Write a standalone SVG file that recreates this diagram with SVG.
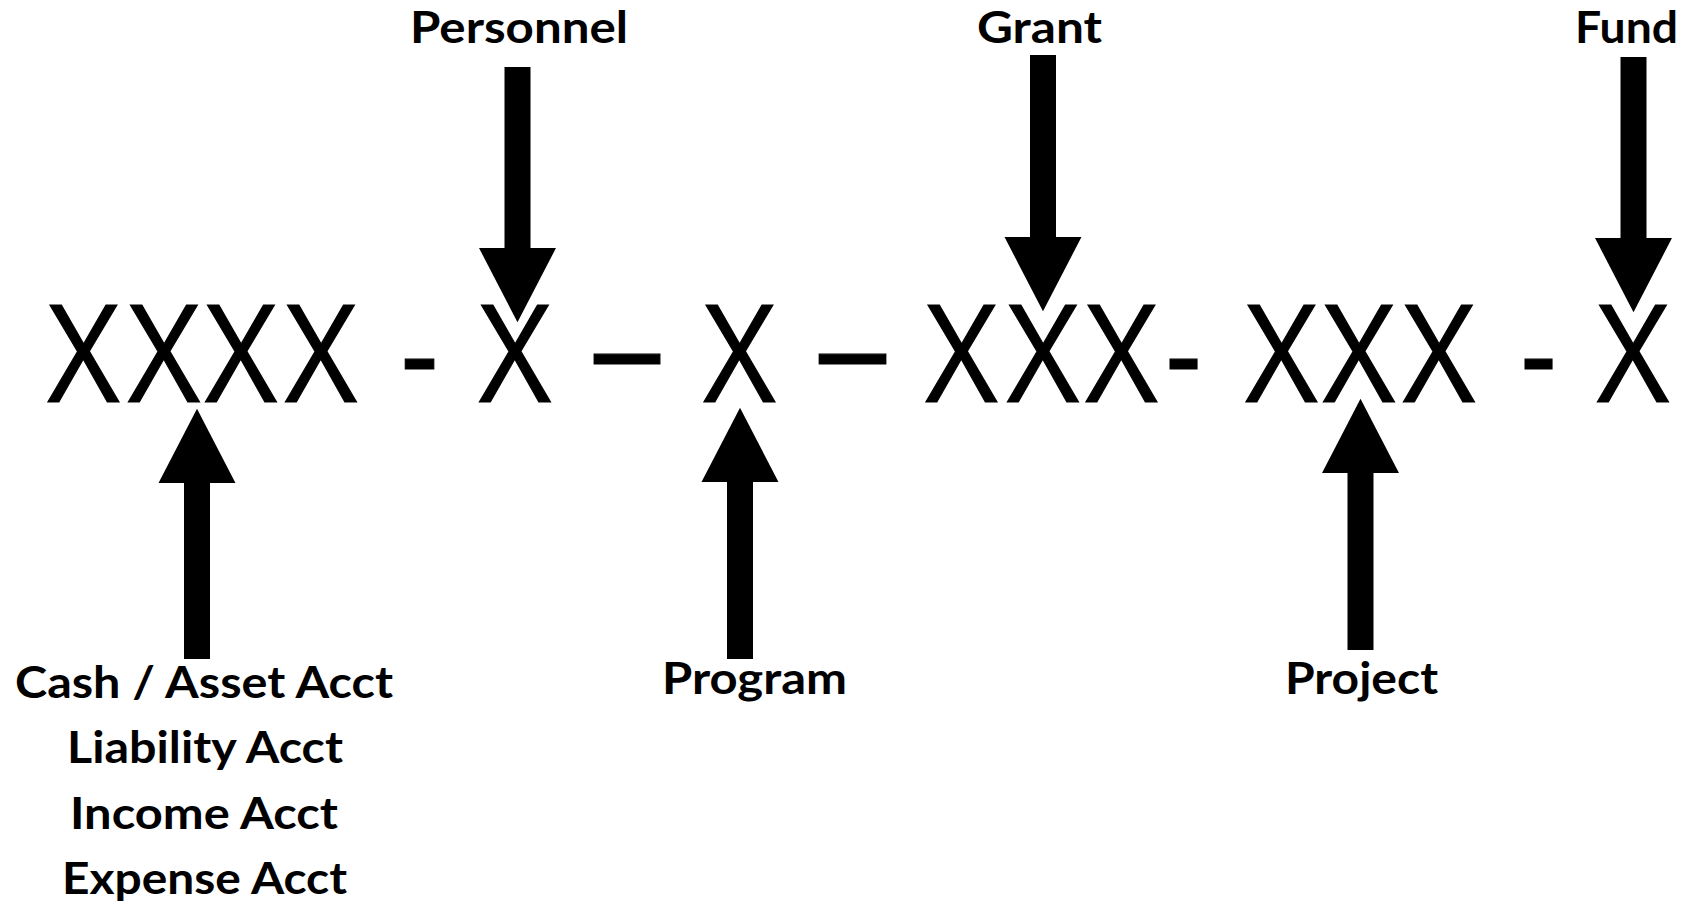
<svg xmlns="http://www.w3.org/2000/svg" width="1689" height="904" viewBox="0 0 1689 904">
  <style>
    .code { font-family: "Open Sans", "Noto Sans", sans-serif; font-size: 136px; fill: #000; stroke: #000; stroke-width: 1.2; text-anchor: middle; }
    .lbl { font-family: Lato, "Open Sans", sans-serif; font-weight: bold; font-size: 44px; fill: #000; text-anchor: middle; }
    .shaft { stroke: #000; stroke-width: 26; fill: none; marker-end: url(#head); }
  </style>
  <defs>
    <marker id="head" markerUnits="strokeWidth" markerWidth="2.9" markerHeight="3" refX="0" refY="1.48" orient="auto" overflow="visible">
      <path d="M0,0 L2.86,1.48 L0,2.96 Z" fill="#000" stroke="none"/>
    </marker>
  </defs>
  <rect width="1689" height="904" fill="#fff"/>

  <!-- account code string -->
  <g id="code">
    <text class="code" x="83.5" y="402" textLength="72" lengthAdjust="spacingAndGlyphs">X</text>
    <text class="code" x="164" y="402" textLength="72" lengthAdjust="spacingAndGlyphs">X</text>
    <text class="code" x="241" y="402" textLength="72" lengthAdjust="spacingAndGlyphs">X</text>
    <text class="code" x="321" y="402" textLength="72" lengthAdjust="spacingAndGlyphs">X</text>
    <text class="code" x="419.5" y="401" textLength="38" lengthAdjust="spacingAndGlyphs">-</text>
    <text class="code" x="515" y="402" textLength="72" lengthAdjust="spacingAndGlyphs">X</text>
    <text class="code" x="627" y="396" textLength="78" lengthAdjust="spacingAndGlyphs">–</text>
    <text class="code" x="739.5" y="402" textLength="72" lengthAdjust="spacingAndGlyphs">X</text>
    <text class="code" x="852.5" y="396" textLength="79" lengthAdjust="spacingAndGlyphs">–</text>
    <text class="code" x="961.5" y="402" textLength="72" lengthAdjust="spacingAndGlyphs">X</text>
    <text class="code" x="1043" y="402" textLength="72" lengthAdjust="spacingAndGlyphs">X</text>
    <text class="code" x="1121.5" y="402" textLength="72" lengthAdjust="spacingAndGlyphs">X</text>
    <text class="code" x="1183.5" y="401" textLength="36" lengthAdjust="spacingAndGlyphs">-</text>
    <text class="code" x="1281.5" y="402" textLength="72" lengthAdjust="spacingAndGlyphs">X</text>
    <text class="code" x="1359" y="402" textLength="72" lengthAdjust="spacingAndGlyphs">X</text>
    <text class="code" x="1439" y="402" textLength="72" lengthAdjust="spacingAndGlyphs">X</text>
    <text class="code" x="1538.5" y="401" textLength="36" lengthAdjust="spacingAndGlyphs">-</text>
    <text class="code" x="1633" y="402" textLength="72" lengthAdjust="spacingAndGlyphs">X</text>
  </g>

  <!-- segment labels -->
  <g id="personnel"><text class="lbl" x="519" y="43" textLength="218" lengthAdjust="spacingAndGlyphs">Personnel</text></g>
  <g id="grant"><text class="lbl" x="1039.5" y="43" textLength="125" lengthAdjust="spacingAndGlyphs">Grant</text></g>
  <g id="fund"><text class="lbl" x="1626.5" y="43" textLength="103" lengthAdjust="spacingAndGlyphs">Fund</text></g>
  <g id="program"><text class="lbl" x="754.5" y="694" textLength="185" lengthAdjust="spacingAndGlyphs">Program</text></g>
  <g id="project"><text class="lbl" x="1361.5" y="694" textLength="153" lengthAdjust="spacingAndGlyphs">Project</text></g>
  <g id="account">
    <text class="lbl" x="204" y="698" textLength="378" lengthAdjust="spacingAndGlyphs">Cash / Asset Acct</text>
    <text class="lbl" x="205" y="763" textLength="276" lengthAdjust="spacingAndGlyphs">Liability Acct</text>
    <text class="lbl" x="204" y="829" textLength="268" lengthAdjust="spacingAndGlyphs">Income Acct</text>
    <text class="lbl" x="204.5" y="894" textLength="285" lengthAdjust="spacingAndGlyphs">Expense Acct</text>
  </g>

  <!-- arrows -->
  <g id="connectors">
    <line class="shaft" x1="517.5" y1="67" x2="517.5" y2="248"/>
    <line class="shaft" x1="1043" y1="55" x2="1043" y2="237"/>
    <line class="shaft" x1="1633.5" y1="57" x2="1633.5" y2="238"/>
    <line class="shaft" x1="197" y1="659" x2="197" y2="483"/>
    <line class="shaft" x1="740" y1="659" x2="740" y2="482"/>
    <line class="shaft" x1="1360.5" y1="650" x2="1360.5" y2="473"/>
  </g>
</svg>
